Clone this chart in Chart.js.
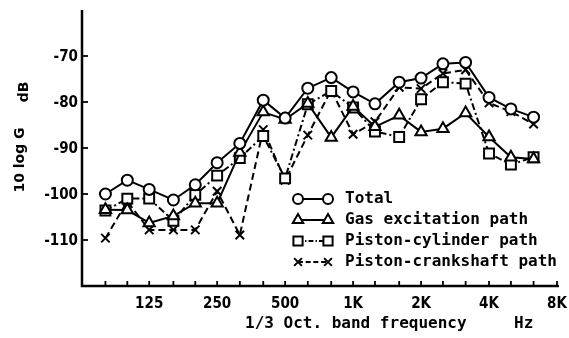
<!DOCTYPE html>
<html>
<head>
<meta charset="utf-8">
<script src="https://cdn.jsdelivr.net/npm/chart.js@4.4.0/dist/chart.umd.min.js"></script>
<style>
    html, body { margin: 0; padding: 0; background: #fff; }
    #wrap { width: 569px; height: 338px; }
</style>
</head>
<body>
<div id="wrap"><canvas id="chart" width="569" height="338"></canvas></div>
<script>
// 1/3 octave band centres (Hz)
const freqs = [80, 100, 125, 160, 200, 250, 315, 400, 500, 630, 800, 1000, 1250, 1600, 2000, 2500, 3150, 4000, 5000, 6300];

// 10 log G, dB
const total        = [-100, -97, -99, -101.3, -98, -93.2, -89, -79.6, -83.5, -77, -74.7, -77.8, -80.4, -75.7, -74.8, -71.7, -71.4, -79, -81.5, -83.3];
const gasPath      = [-103.4, -103.5, -106.3, -104.8, -102, -102, -91, -82.2, -83.8, -80.3, -87.7, -81, -85.4, -82.9, -86.5, -85.8, -82.4, -87.6, -92, -92.4];
const cylinderPath = [-103.6, -101, -101, -105.8, -100.2, -96, -92.2, -87.4, -96.6, -80.5, -77.6, -81.2, -86.4, -87.6, -79.4, -75.7, -76, -91.2, -93.6, -92];
const crankPath    = [-109.6, -101.6, -107.8, -107.8, -107.8, -99.4, -108.9, -86, -97, -87.2, -77.4, -87, -84.3, -76.8, -77.1, -73.8, -73, -80.2, -82.1, -84.8];

// axis ticks
const minorTicks = [80, 100, 125, 160, 200, 250, 315, 400, 500, 630, 800, 1000, 1250, 1600, 2000, 2500, 3150, 4000, 5000, 6300, 8000];
const xTickValues = [125, 250, 500, 1000, 2000, 4000, 8000];
const xTickLabels = ['125', '250', '500', '1K', '2K', '4K', '8K'];
const yTickValues = [-110, -100, -90, -80, -70];
const yTickLabels = ['-110', '-100', '-90', '-80', '-70'];

const seriesNames = ['Total', 'Gas excitation path', 'Piston-cylinder path', 'Piston-crankshaft path'];

function toPoints(values) {
    return freqs.map((f, i) => ({ x: f, y: values[i] }));
}

const styles = [
    { pointStyle: 'circle',   radius: 5.5, dash: [] },
    { pointStyle: 'triangle', radius: 6.5, dash: [] },
    { pointStyle: 'rect',     radius: 7,   dash: [7, 3, 2, 3] },
    { pointStyle: 'crossRot', radius: 6,   dash: [7, 4] }
];
const seriesValues = [total, gasPath, cylinderPath, crankPath];

const datasets = seriesValues.map((vals, i) => ({
    label: seriesNames[i],
    data: toPoints(vals),
    borderColor: '#000',
    borderWidth: 2,
    borderDash: styles[i].dash,
    pointStyle: styles[i].pointStyle,
    pointRadius: styles[i].radius,
    pointBorderWidth: 2,
    pointBackgroundColor: '#fff',
    pointBorderColor: '#000',
    tension: 0,
    fill: false
}));

// Axes, ticks, titles and legend drawn by hand in the old typewriter look
const axesPlugin = {
    id: 'axesPlugin',
    beforeDatasetsDraw(chart) {
        const ctx = chart.ctx;
        const xs = chart.scales.x;
        const ys = chart.scales.y;
        const area = chart.chartArea;
        ctx.save();
        ctx.strokeStyle = '#000';
        ctx.lineWidth = 2.5;
        ctx.beginPath();
        ctx.moveTo(area.left, area.top);
        ctx.lineTo(area.left, area.bottom);
        ctx.lineTo(area.right + 2, area.bottom);
        ctx.stroke();

        ctx.lineWidth = 1.8;
        minorTicks.forEach(f => {
            const px = xs.getPixelForValue(f);
            ctx.beginPath();
            ctx.moveTo(px, area.bottom);
            ctx.lineTo(px, area.bottom - 5);
            ctx.stroke();
        });
        yTickValues.forEach(v => {
            const py = ys.getPixelForValue(v);
            ctx.beginPath();
            ctx.moveTo(area.left, py);
            ctx.lineTo(area.left + 6, py);
            ctx.stroke();
        });

        ctx.fillStyle = '#000';
        ctx.font = 'bold 15px "DejaVu Sans Condensed", "DejaVu Sans"';
        ctx.textAlign = 'right';
        ctx.textBaseline = 'middle';
        yTickValues.forEach((v, i) => {
            ctx.fillText(yTickLabels[i], area.left - 4, ys.getPixelForValue(v) + 1);
        });
        ctx.textAlign = 'center';
        xTickValues.forEach((f, i) => {
            ctx.fillText(xTickLabels[i], xs.getPixelForValue(f), 304);
        });

        ctx.font = 'bold 16px "DejaVu Sans Mono"';
        ctx.textAlign = 'left';
        ctx.fillText('1/3 Oct. band frequency', 245, 324);
        ctx.fillText('Hz', 514, 324);

        ctx.save();
        ctx.translate(20, 160);
        ctx.rotate(-Math.PI / 2);
        ctx.font = 'bold 14px "DejaVu Sans"';
        ctx.textAlign = 'center';
        ctx.fillText('10 log G', 0, 0);
        ctx.fillText('dB', 68, 4);
        ctx.restore();
        ctx.restore();
    },
    afterDraw(chart) {
        const ctx = chart.ctx;
        const rows = [199, 220, 241, 262];
        ctx.save();
        seriesNames.forEach((name, i) => {
            const y = rows[i];
            ctx.strokeStyle = '#000';
            ctx.lineWidth = 2;
            ctx.setLineDash(styles[i].dash.map(d => d * 0.7));
            ctx.beginPath();
            ctx.moveTo(298, y);
            ctx.lineTo(328, y);
            ctx.stroke();
            ctx.setLineDash([]);
            ctx.fillStyle = '#fff';
            const opts = { pointStyle: styles[i].pointStyle, radius: styles[i].radius - 0.5, borderWidth: 2, rotation: 0 };
            Chart.helpers.drawPoint(ctx, opts, 298, y);
            Chart.helpers.drawPoint(ctx, opts, 328, y);
            ctx.fillStyle = '#000';
            ctx.font = 'bold 16px "DejaVu Sans Mono"';
            ctx.textAlign = 'left';
            ctx.textBaseline = 'middle';
            ctx.fillText(name, 345, y);
        });
        ctx.restore();
    }
};

new Chart(document.getElementById('chart'), {
    type: 'line',
    data: { datasets: datasets },
    options: {
        responsive: false,
        animation: false,
        devicePixelRatio: 1,
        layout: { padding: { left: 82, right: 12, top: 10, bottom: 52 } },
        plugins: {
            legend: { display: false },
            tooltip: { enabled: false }
        },
        scales: {
            x: { type: 'logarithmic', min: 63, max: 8000, display: false },
            y: { type: 'linear', min: -120, max: -60, display: false }
        }
    },
    plugins: [axesPlugin]
});
</script>
</body>
</html>
